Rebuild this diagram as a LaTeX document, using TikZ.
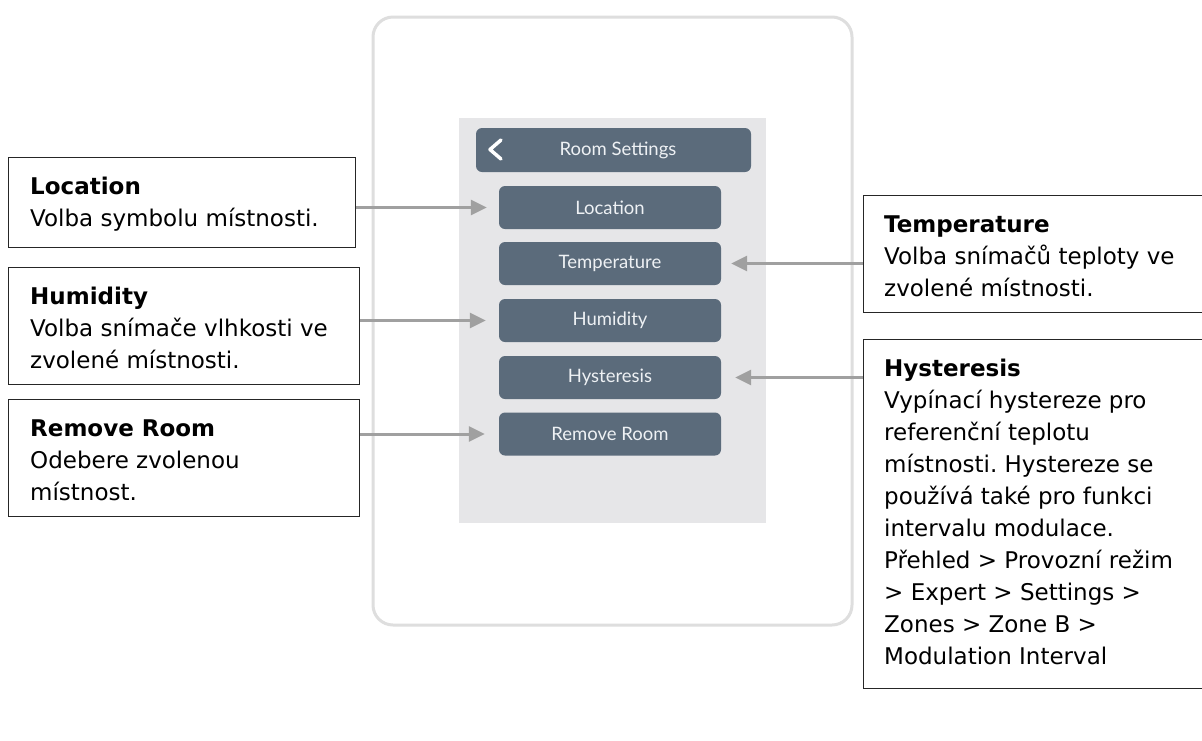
\documentclass[tikz,border=0pt]{standalone}
\usepackage{fontspec}
\setmainfont{DejaVu Sans}
\newfontfamily\uifont{Lato}
\usetikzlibrary{arrows.meta}
\frenchspacing

\definecolor{framegray}{HTML}{DEDEDE}
\definecolor{screengray}{HTML}{E6E6E8}
\definecolor{slate}{HTML}{5B6B7B}
\definecolor{btntext}{HTML}{EEF1F4}
\definecolor{arrowgray}{HTML}{A0A0A0}
\definecolor{boxline}{HTML}{262626}

\begin{document}
\begin{tikzpicture}[x=1pt,y=-1pt,
  devframe/.style={draw=framegray, line width=3pt, rounded corners=20pt},
  screenbg/.style={fill=screengray},
  bar/.style={fill=slate, rounded corners=6pt},
  btn/.style={bar, minimum width=222pt, minimum height=43pt, inner sep=0pt,
    text=btntext, font=\uifont\fontsize{18.5}{20}\selectfont},
  callout/.style={draw=boxline, line width=1.2pt, anchor=north west, inner sep=0pt},
  ctext/.style={anchor=base west, inner sep=0pt, font=\fontsize{23}{32}\selectfont},
  callarrow/.style={draw=arrowgray, line width=3pt, -{Triangle[length=16pt,width=15pt]}}
]
\fill[white] (0,0) rectangle (1202,740);
\useasboundingbox (0,0) rectangle (1202,740);

% device housing and screen
\draw[devframe] (373,17) rectangle (852,625);
\fill[screenbg] (459,118) rectangle (766,523);

% title bar with back chevron
\node[bar, minimum width=275pt, minimum height=44pt, inner sep=0pt] (titlebar) at (613.5,150) {};
\draw[white, line width=3.5pt, line cap=round, line join=round] (501,140) -- (490,149.5) -- (501,159);
\node[text=btntext, font=\uifont\fontsize{18.5}{20}\selectfont, inner sep=0pt] (ttl) at (618,150) {Room Settings};

% menu buttons
\node[btn] (bloc)  at (610,207.5) {Location};
\node[btn] (btemp) at (610,263.5) {Temperature};
\node[btn] (bhum)  at (610,320.5) {Humidity};
\node[btn] (bhys)  at (610,377.5) {Hysteresis};
\node[btn] (brem)  at (610,434)   {Remove Room};

% callout boxes
\node[callout, minimum width=347pt, minimum height=90pt]  (lbox1) at (8,157) {};
\node[callout, minimum width=351pt, minimum height=117pt] (lbox2) at (8,267) {};
\node[callout, minimum width=351pt, minimum height=117pt] (lbox3) at (8,399) {};
\node[callout, minimum width=347pt, minimum height=117pt] (rbox1) at (863,195) {};
\node[callout, minimum width=347pt, minimum height=349pt] (rbox2) at (863,339) {};

% callout texts
\node[ctext] (tloc) at (30,194) {\vtop{\hbox{\bfseries Location}\hbox{Volba symbolu místnosti.}}};
\node[ctext] (thum) at (30,304) {\vtop{\hbox{\bfseries Humidity}\hbox{Volba snímače vlhkosti ve}\hbox{zvolené místnosti.}}};
\node[ctext] (trem) at (30,436) {\vtop{\hbox{\bfseries Remove Room}\hbox{Odebere zvolenou}\hbox{místnost.}}};
\node[ctext] (ttmp) at (884,232) {\vtop{\hbox{\bfseries Temperature}\hbox{Volba snímačů teploty ve}\hbox{zvolené místnosti.}}};
\node[ctext] (thys) at (884,376) {\vtop{\hbox{\bfseries Hysteresis}\hbox{Vypínací hystereze pro}\hbox{referenční teplotu}\hbox{místnosti. Hystereze se}\hbox{používá také pro funkci}\hbox{intervalu modulace.}\hbox{Přehled > Provozní režim}\hbox{> Expert > Settings >}\hbox{Zones > Zone B >}\hbox{Modulation Interval}}};

% pointers from the callouts to the buttons
\draw[callarrow] (lbox1.east |- bloc.west) -- ([xshift=-12pt]bloc.west);
\draw[callarrow] (lbox2.east |- bhum.west) -- ([xshift=-13pt]bhum.west);
\draw[callarrow] (lbox3.east |- brem.west) -- ([xshift=-14pt]brem.west);
\draw[callarrow] (rbox1.west |- btemp.east) -- ([xshift=10pt]btemp.east);
\draw[callarrow] (rbox2.west |- bhys.east) -- ([xshift=14pt]bhys.east);
\end{tikzpicture}
\end{document}
